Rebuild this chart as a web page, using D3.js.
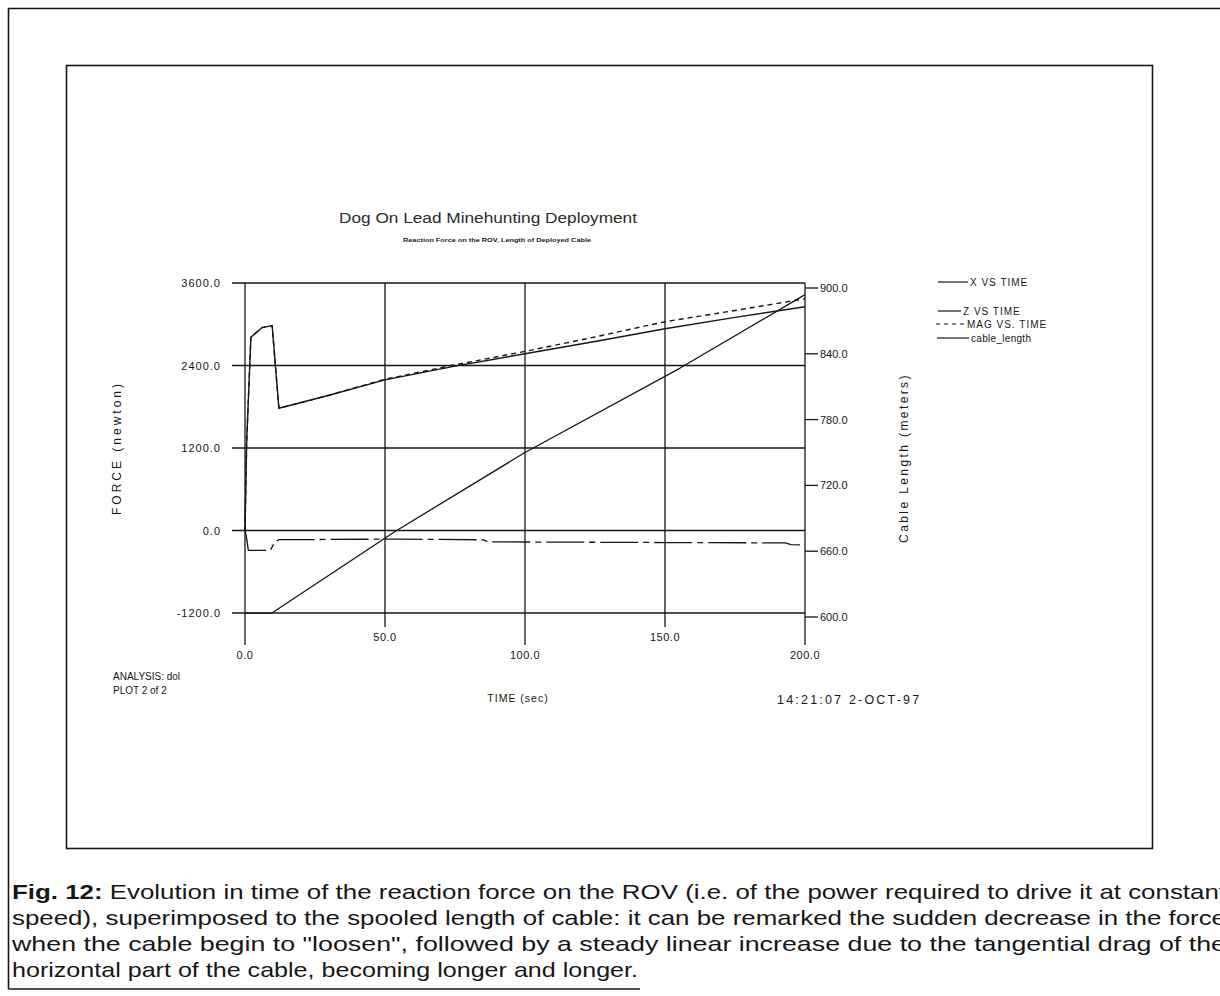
<!DOCTYPE html>
<html>
<head>
<meta charset="utf-8">
<script src="https://cdn.jsdelivr.net/npm/d3@7"></script>
<style>
body { margin: 0; background: #fff; }
svg { display: block; }
text { font-family: "Liberation Sans", Arial, sans-serif; fill: #161616; }
</style>
</head>
<body>
<svg id="chart" width="1220" height="996"></svg>
<script>
// values
var timeZ = [0, 0.6, 2.1, 6, 9.7, 12.1, 30, 50, 75, 100, 125, 150, 175, 200];
var zForce = [0, 1300, 2810, 2950, 2980, 1778, 1967, 2190, 2390, 2570, 2750, 2935, 3100, 3254];
var magForce = [0, 1300, 2810, 2950, 2980, 1778, 1967, 2200, 2410, 2605, 2815, 3037, 3200, 3370];

var timeX = [0, 0.5, 1.2, 9, 10.5, 12, 55, 85, 87, 150, 193, 195, 200];
var xForce = [0, -90, -290, -290, -180, -134, -125, -135, -165, -175, -180, -205, -210];

var timeCable = [0, 9.6, 53.6, 100, 155.4, 200];
var cableLength = [603.6, 603.6, 678, 750, 827, 894];

var timeTicks = [0, 50, 100, 150, 200];
var forceTicks = [-1200, 0, 1200, 2400, 3600];
var cableTicks = [600, 660, 720, 780, 840, 900];

var legendNames = ["X VS TIME", "Z VS TIME", "MAG VS. TIME", "cable_length"];

var captionLines = [
    "Evolution in time of the reaction force on the ROV (i.e. of the power required to drive it at constant",
    "speed), superimposed to the spooled length of cable: it can be remarked the sudden decrease in the force",
    "when the cable begin to \"loosen\", followed by a steady linear increase due to the tangential drag of the",
    "horizontal part of the cable, becoming longer and longer."
];

var ink = "#161616";
var svg = d3.select("#chart");
svg.append("rect").attr("width", 1220).attr("height", 996).attr("fill", "#fff");

// page frames (outer one runs off the scan)
svg.append("path")
    .attr("d", "M8.5,989 L8.5,8.5 L1220,8.5 M8.5,989 L640,989")
    .attr("fill", "none").attr("stroke", ink).attr("stroke-width", 1.6);
svg.append("rect")
    .attr("x", 66.5).attr("y", 65.5).attr("width", 1086).attr("height", 783)
    .attr("fill", "none").attr("stroke", ink).attr("stroke-width", 1.6);

var x = d3.scaleLinear().domain([0, 200]).range([245, 805]);
var yF = d3.scaleLinear().domain([-1200, 3600]).range([613, 283]);
var yC = d3.scaleLinear().domain([600, 900]).range([617, 288]);
var fmt = d3.formatLocale({decimal: ".", thousands: "", grouping: [3], currency: ["", ""], minus: "-"}).format(".1f");

var g = svg.append("g").attr("stroke", ink).attr("stroke-width", 1.3);

// horizontal force grid + left ticks
g.selectAll(".hgrid").data(forceTicks).join("line")
    .attr("x1", 232).attr("x2", x(200))
    .attr("y1", d => yF(d)).attr("y2", d => yF(d));

// vertical time grid, ticks staggered
function tickEnd(i) { return i % 2 ? 627 : 645; }
g.selectAll(".vgrid").data(timeTicks).join("line")
    .attr("x1", d => x(d)).attr("x2", d => x(d))
    .attr("y1", yF(3600)).attr("y2", (d, i) => tickEnd(i));

// right axis ticks
g.selectAll(".rtick").data(cableTicks).join("line")
    .attr("x1", x(200)).attr("x2", x(200) + 13)
    .attr("y1", d => yC(d)).attr("y2", d => yC(d));

svg.selectAll(".lLabel").data(forceTicks).join("text")
    .attr("x", 221).attr("y", d => yF(d) + 4)
    .attr("text-anchor", "end").attr("font-size", 11).attr("letter-spacing", 1)
    .text(d => fmt(d));

svg.selectAll(".rLabel").data(cableTicks).join("text")
    .attr("x", x(200) + 15).attr("y", d => yC(d) + 4)
    .attr("font-size", 11)
    .text(d => fmt(d));

svg.selectAll(".bLabel").data(timeTicks).join("text")
    .attr("x", d => x(d)).attr("y", (d, i) => tickEnd(i) + 14)
    .attr("text-anchor", "middle").attr("font-size", 11).attr("letter-spacing", 0.5)
    .text(d => fmt(d));

// curves
var lineF = function(ts, vs) {
    return d3.line().x(d => x(d[0])).y(d => yF(d[1]))(d3.zip(ts, vs));
};
var lineC = d3.line().x(d => x(d[0])).y(d => yC(d[1]));

var curves = svg.append("g").attr("fill", "none").attr("stroke", ink).attr("stroke-linejoin", "round");
curves.append("path").attr("d", lineF(timeX, xForce))
    .attr("stroke-width", 1.3).attr("stroke-dasharray", "38,5,6,5");
curves.append("path").attr("d", lineF(timeZ, zForce))
    .attr("stroke-width", 1.4);
curves.append("path").attr("d", lineF(timeZ, magForce))
    .attr("stroke-width", 1.4).attr("stroke-dasharray", "5,4");
curves.append("path").attr("d", lineC(d3.zip(timeCable, cableLength)))
    .attr("stroke-width", 1.3);

// legend
var legY = [282, 311, 324, 338];
var legX1 = [938, 938, 936, 937];
var legX2 = [968, 961, 965, 969];
var legDash = [null, null, "4,4", null];
legendNames.forEach(function(name, i) {
    svg.append("line")
        .attr("x1", legX1[i]).attr("x2", legX2[i])
        .attr("y1", legY[i]).attr("y2", legY[i])
        .attr("stroke", ink).attr("stroke-width", 1.2)
        .attr("stroke-dasharray", legDash[i]);
    svg.append("text")
        .attr("x", legX2[i] + 2).attr("y", legY[i] + 4)
        .attr("font-size", 10).attr("letter-spacing", i === 3 ? 0.3 : 1)
        .text(name);
});

// titles and labels
svg.append("text").attr("x", 488).attr("y", 223).attr("text-anchor", "middle")
    .attr("font-size", 14).attr("textLength", 298).attr("lengthAdjust", "spacingAndGlyphs")
    .style("fill", "#2a2a2a")
    .text("Dog On Lead Minehunting Deployment");
svg.append("text").attr("x", 497).attr("y", 242).attr("text-anchor", "middle")
    .attr("font-size", 5.5).attr("font-weight", "bold")
    .attr("textLength", 188).attr("lengthAdjust", "spacingAndGlyphs")
    .text("Reaction Force on the ROV, Length of Deployed Cable");

svg.append("text")
    .attr("transform", "translate(121,448) rotate(-90)")
    .attr("text-anchor", "middle").attr("font-size", 12).attr("letter-spacing", 3)
    .text("FORCE (newton)");
svg.append("text")
    .attr("transform", "translate(908,458) rotate(-90)")
    .attr("text-anchor", "middle").attr("font-size", 12).attr("letter-spacing", 2.4)
    .text("Cable Length (meters)");

svg.append("text").attr("x", 518).attr("y", 702).attr("text-anchor", "middle")
    .attr("font-size", 10.5).attr("letter-spacing", 1).text("TIME (sec)");
svg.append("text").attr("x", 113).attr("y", 680).attr("font-size", 10).text("ANALYSIS: dol");
svg.append("text").attr("x", 113).attr("y", 694).attr("font-size", 10).text("PLOT 2 of 2");
svg.append("text").attr("x", 777).attr("y", 704).attr("font-size", 12.5).attr("letter-spacing", 2.2)
    .text("14:21:07  2-OCT-97");

// caption under the plot
var capY = [899, 925, 951, 977];
var capLen = [1214, 1214, 1214, 626];
captionLines.forEach(function(line, i) {
    var t = svg.append("text")
        .attr("x", 12).attr("y", capY[i]).attr("font-size", 21)
        .attr("textLength", capLen[i]).attr("lengthAdjust", "spacingAndGlyphs");
    if (i === 0) {
        t.append("tspan").attr("font-weight", "bold").text("Fig. 12: ");
    }
    t.append("tspan").text(line);
});
</script>
</body>
</html>
